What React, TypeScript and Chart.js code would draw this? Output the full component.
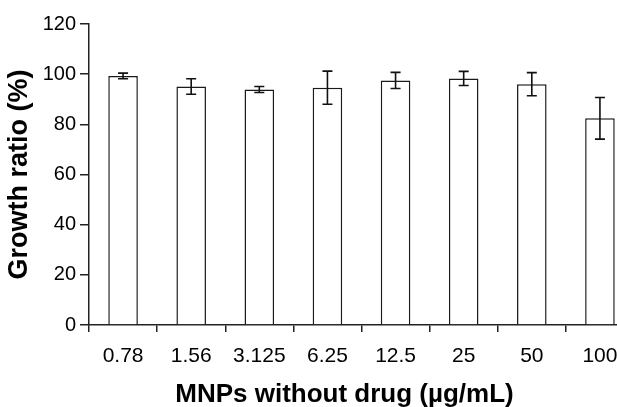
import React, { useEffect, useRef } from "react";
import { Chart, registerables } from "chart.js";

Chart.register(...registerables);

const categories = ["0.78", "1.56", "3.125", "6.25", "12.5", "25", "50", "100"];
const growthRatio = [99.3, 95.1, 93.9, 94.6, 97.5, 98.3, 96.0, 82.4];
const errors = [1.1, 3.1, 1.2, 6.6, 3.2, 2.8, 4.6, 8.3];
const yTicks = [0, 20, 40, 60, 80, 100, 120];
const xTitle = "MNPs without drug (µg/mL)";
const yTitle = "Growth ratio (%)";

const FONT = "'Liberation Sans', Arial, Helvetica, sans-serif";
const AXIS = "#222222";

const errorBarPlugin = {
  id: "errorBars",
  afterDatasetsDraw(chart: any) {
    const meta = chart.getDatasetMeta(0);
    const yScale = chart.scales.y;
    const ctx = chart.ctx;
    ctx.save();
    ctx.strokeStyle = "#111111";
    ctx.lineWidth = 1.6;
    meta.data.forEach((bar: any, i: number) => {
      const x = bar.x;
      const top = yScale.getPixelForValue(growthRatio[i] + errors[i]);
      const bottom = yScale.getPixelForValue(growthRatio[i] - errors[i]);
      const cap = 5;
      ctx.beginPath();
      ctx.moveTo(x, top);
      ctx.lineTo(x, bottom);
      ctx.moveTo(x - cap, top);
      ctx.lineTo(x + cap, top);
      ctx.moveTo(x - cap, bottom);
      ctx.lineTo(x + cap, bottom);
      ctx.stroke();
    });
    ctx.restore();
  },
};

// x-axis title, centred under the visible part of the axis
const xTitlePlugin = {
  id: "xTitle",
  afterDraw(chart: any) {
    const xScale = chart.scales.x;
    const ctx = chart.ctx;
    const left = chart.chartArea.left;
    const lastCenter = xScale.getPixelForValue(categories.length - 1);
    const cx = (left + lastCenter) / 2;
    ctx.save();
    ctx.fillStyle = "#000000";
    ctx.font = `bold 26px ${FONT}`;
    ctx.textAlign = "center";
    ctx.textBaseline = "alphabetic";
    ctx.fillText(xTitle, cx, xScale.bottom - 5);
    ctx.restore();
  },
};

export default function App() {
  const ref = useRef<HTMLCanvasElement | null>(null);

  useEffect(() => {
    if (!ref.current) return;
    const chart = new Chart(ref.current, {
      type: "bar",
      data: {
        labels: categories,
        datasets: [
          {
            data: growthRatio,
            backgroundColor: "#ffffff",
            borderColor: "#1a1a1a",
            borderWidth: 1.5,
            barPercentage: 0.434,
            categoryPercentage: 1,
          },
        ],
      },
      plugins: [errorBarPlugin, xTitlePlugin],
      options: {
        responsive: false,
        animation: false,
        devicePixelRatio: 1,
        layout: { padding: { top: 24, right: 6, left: 0, bottom: 0 } },
        plugins: {
          legend: { display: false },
          tooltip: { enabled: false },
        },
        scales: {
          x: {
            offset: true,
            grid: {
              offset: true,
              drawOnChartArea: false,
              drawTicks: true,
              tickLength: 7,
              color: AXIS,
              lineWidth: 1.5,
            },
            border: { display: true, color: AXIS, width: 1.5 },
            ticks: {
              color: "#000000",
              font: { family: FONT, size: 21 },
              padding: 12,
              maxRotation: 0,
              autoSkip: false,
            },
            title: { display: false },
            afterFit(scale: any) {
              scale.height = 82;
            },
          },
          y: {
            min: 0,
            max: 120,
            afterBuildTicks(scale: any) {
              scale.ticks = yTicks.map((v) => ({ value: v }));
            },
            grid: {
              drawOnChartArea: false,
              drawTicks: true,
              tickLength: 9,
              color: AXIS,
              lineWidth: 1.5,
            },
            border: { display: true, color: AXIS, width: 1.5 },
            ticks: {
              color: "#000000",
              font: { family: FONT, size: 20 },
              padding: 4,
            },
            title: {
              display: true,
              text: yTitle,
              color: "#000000",
              font: { family: FONT, size: 27, weight: "bold", lineHeight: 1 },
              padding: { top: 6, bottom: 0 },
            },
            afterFit(scale: any) {
              scale.width = 89;
            },
          },
        },
      },
    });
    return () => chart.destroy();
  }, []);

  return (
    <div
      style={{
        position: "absolute",
        left: 0,
        top: 0,
        width: 617,
        height: 407,
        overflow: "hidden",
        background: "#ffffff",
      }}
    >
      <canvas ref={ref} width={640} height={407} style={{ width: 640, height: 407, display: "block" }} />
    </div>
  );
}
